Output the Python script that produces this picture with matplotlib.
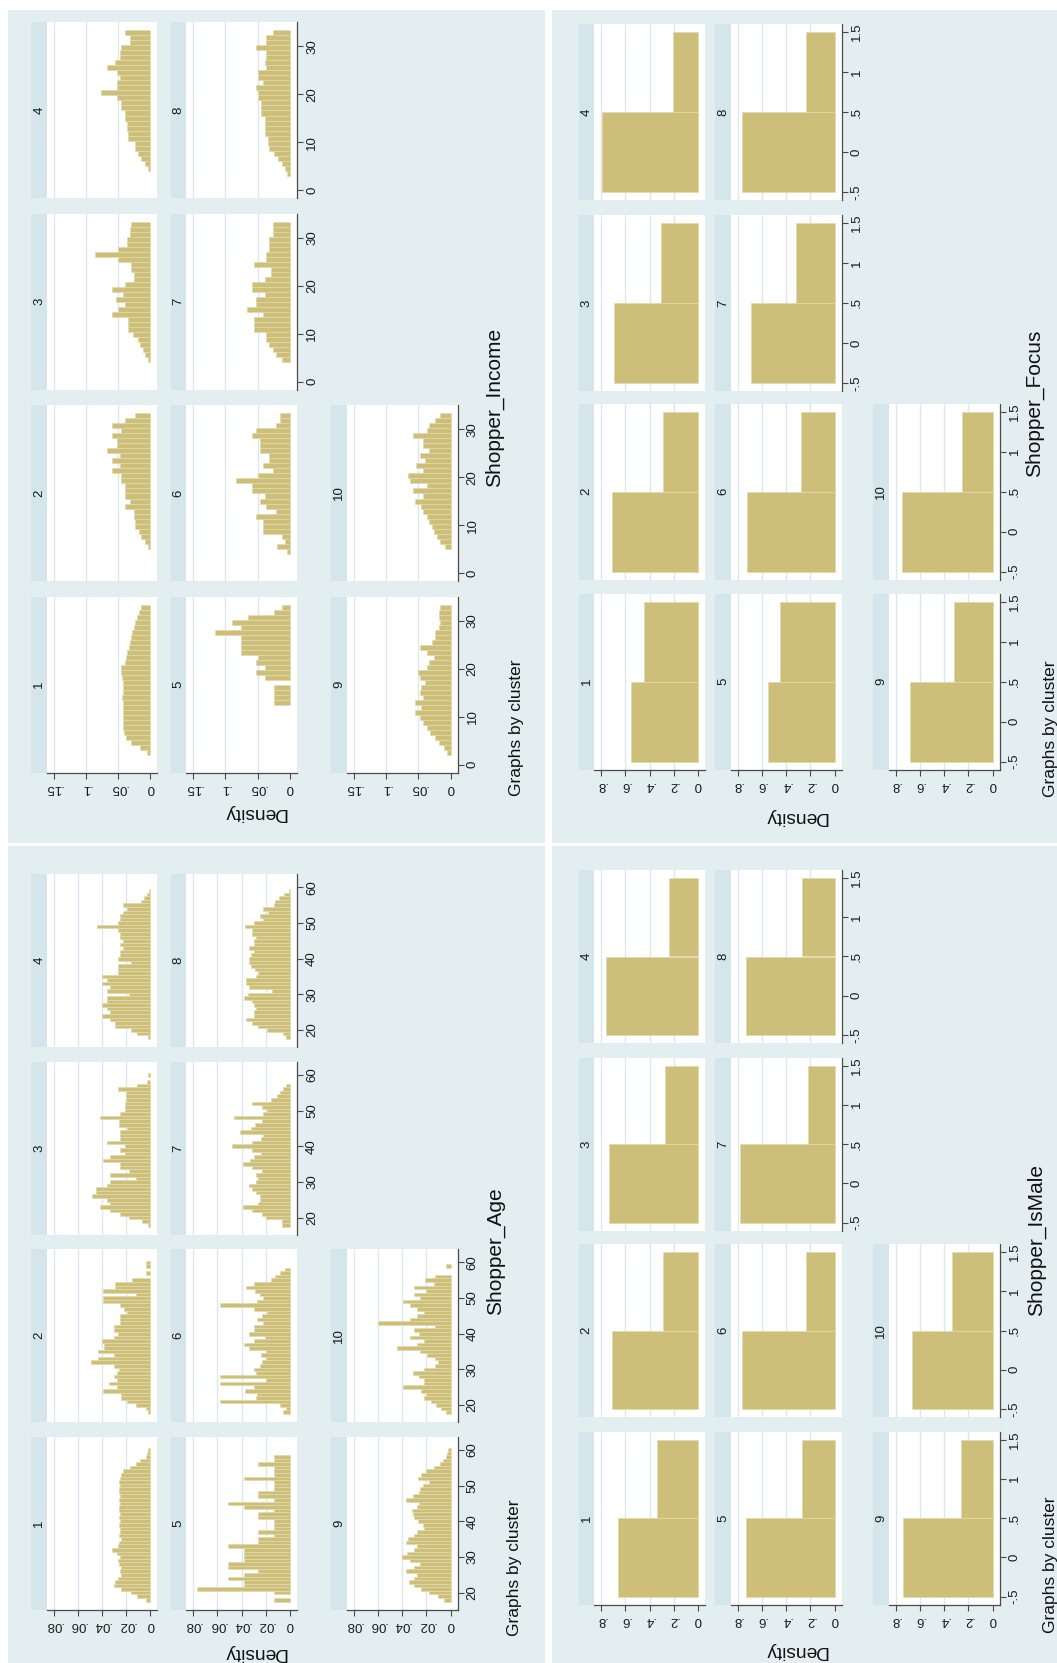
import numpy as np
import matplotlib
matplotlib.use("Agg")
from matplotlib import pyplot as plt
from matplotlib.patches import Rectangle

plt.rcParams['font.family'] = ['Liberation Sans', 'DejaVu Sans']

W, H = 1057, 1663

BG = "#E3EEF0"
STRIP = "#D4E5EB"
GRID = "#DCE7EC"
BAR = "#CDBF7A"
BAR_EDGE = "#E2DAAA"
AXIS = "#4A4A4A"

clusters = list(range(1, 11))

# histogram bins (common to all clusters)
age_start, age_width = 17.5, 1.0
income_start, income_width = 1.9, 1.05
binary_start, binary_width = -0.5, 1.0

age_ticks = [20, 30, 40, 50, 60]
income_ticks = [0, 10, 20, 30]
binary_ticks = [-0.5, 0, 0.5, 1, 1.5]
age_dens_ticks = [0, .02, .04, .06, .08]
income_dens_ticks = [0, .05, .1, .15]
binary_dens_ticks = [0, .2, .4, .6, .8]

# Shopper_Age density per cluster, ages 18..61
age_density = {
    1: [.004, .011, .016, .024, .030, .029, .027, .024, .025, .024,
        .026, .027, .025, .028, .032, .027, .026, .024, .026, .025,
        .025, .026, .025, .026, .025, .026, .026, .025, .026, .025,
        .026, .026, .025, .026, .025, .024, .023, .017, .012, .009,
        .004, .003, .002, 0],
    2: [.002, .004, .012, .019, .024, .024, .039, .028, .034, .028,
        .030, .028, .026, .030, .049, .043, .030, .043, .038, .038,
        .040, .030, .027, .030, .030, .025, .025, .025, .019, .022,
        .025, .039, .039, .012, .039, .029, .029, .015, 0, .004,
        0, .004, .004, 0],
    3: [.002, .007, .018, .025, .033, .042, .033, .036, .048, .045,
        .045, .036, .033, .012, .033, .018, .025, .025, .039, .033,
        .021, .025, .021, .036, .025, .025, .025, .019, .026, .026,
        .042, .025, .021, .021, .021, .020, .020, .020, .027, .011,
        .003, 0, .002, 0],
    4: [.002, .011, .016, .029, .029, .033, .040, .033, .036, .040,
        .036, .036, .018, .036, .033, .040, .036, .040, .027, .027,
        .027, .016, .027, .025, .025, .023, .025, .023, .025, .025,
        .027, .044, .027, .025, .025, .023, .019, .023, .008, .005,
        .003, .001, 0, 0],
    5: [.013, 0, .013, .077, .038, .038, .051, .038, .026, .051,
        .051, .038, .038, .038, .038, .051, .026, .026, .013, .026,
        .013, .013, .013, .026, .026, .013, .038, .051, .013, .026,
        .026, .013, .013, .013, .038, .013, .013, .013, .026, .013,
        .013, 0, 0, 0],
    6: [.006, .003, .008, .058, .028, .027, .037, .030, .058, .020,
        .058, .028, .030, .025, .023, .020, .024, .020, .034, .038,
        .030, .021, .034, .030, .030, .022, .027, .023, .019, .030,
        .058, .027, .022, .025, .029, .036, .030, .016, .012, .008,
        .004, 0, 0, 0],
    7: [.007, .007, .020, .023, .031, .039, .026, .025, .025, .028,
        .031, .034, .028, .026, .028, .023, .031, .039, .033, .030,
        .024, .031, .048, .031, .024, .022, .041, .032, .029, .023,
        .046, .022, .019, .023, .031, .016, .011, .008, .006, .003,
        0, 0, 0, 0],
    8: [.003, .006, .019, .026, .031, .036, .030, .030, .028, .030,
        .031, .038, .035, .015, .034, .036, .036, .028, .026, .029,
        .032, .034, .034, .032, .030, .034, .030, .030, .028, .031,
        .031, .037, .030, .022, .025, .018, .022, .013, .012, .009,
        .005, .001, 0, 0],
    9: [.005, .010, .018, .024, .030, .034, .030, .028, .037, .030,
        .025, .033, .040, .036, .030, .028, .037, .035, .030, .028,
        .022, .023, .027, .030, .031, .032, .028, .026, .037, .031,
        .026, .025, .023, .018, .027, .024, .020, .014, .009, .006,
        .004, .003, .002, 0],
    10: [.004, .008, .012, .016, .022, .020, .024, .039, .022, .022,
         .026, .031, .022, .013, .010, .013, .019, .025, .044, .028,
         .022, .033, .026, .030, .013, .060, .033, .028, .022, .028,
         .033, .039, .025, .030, .020, .030, .014, .021, .013, 0,
         0, .004, 0, 0],
}

# Shopper_Income density per cluster, 30 bins from 1.9
income_density = {
    1: [.006, .016, .030, .038, .041, .042, .043, .042, .043, .042,
        .043, .044, .042, .043, .042, .044, .046, .045, .040, .038,
        .036, .034, .032, .030, .028, .026, .024, .021, .018, .014],
    2: [0, 0, 0, .004, .009, .014, .018, .024, .024, .025,
        .025, .039, .032, .039, .039, .039, .045, .045, .060, .047,
        .060, .047, .068, .052, .052, .060, .045, .060, .040, .024],
    3: [0, 0, .004, .009, .012, .016, .019, .027, .035, .035,
        .035, .060, .050, .040, .054, .042, .060, .040, .025, .025,
        .030, .030, .050, .086, .050, .037, .037, .032, .032, .030],
    4: [0, 0, .004, .009, .015, .019, .024, .024, .035, .035,
        .037, .037, .039, .039, .045, .045, .052, .076, .052, .052,
        .047, .052, .068, .055, .047, .047, .045, .032, .032, .039],
    5: [0, 0, 0, 0, 0, 0, 0, 0, 0, 0,
        .025, .025, .025, .025, 0, .039, .052, .039, .052, .050,
        .076, .076, .076, .076, .116, .076, .090, .065, .025, .013],
    6: [0, 0, .005, .020, .008, .012, .042, .042, .042, .053,
        .021, .037, .047, .039, .058, .058, .084, .050, .026, .042,
        .032, .032, .047, .047, .047, .058, .053, .021, .016, .016],
    7: [0, 0, .013, .021, .026, .032, .037, .037, .055, .055,
        .055, .042, .067, .053, .053, .039, .058, .058, .039, .029,
        .029, .055, .037, .037, .032, .032, .032, .026, .026, .026],
    8: [0, .005, .008, .013, .018, .024, .032, .034, .034, .039,
        .039, .039, .039, .045, .045, .045, .050, .050, .053, .042,
        .050, .050, .037, .039, .037, .037, .053, .037, .037, .026],
    9: [.005, .010, .018, .024, .032, .037, .042, .047, .055, .045,
        .055, .042, .047, .045, .040, .047, .050, .037, .034, .026,
        .037, .047, .029, .024, .024, .018, .016, .018, .018, .016],
    10: [0, 0, 0, .008, .016, .021, .026, .029, .034, .037,
         .042, .045, .055, .042, .058, .037, .063, .066, .042, .053,
         .040, .047, .034, .042, .042, .058, .037, .034, .024, .016],
}

# Shopper_IsMale and Shopper_Focus: density of 0 and 1
ismale_density = {
    1: [.66, .34], 2: [.71, .29], 3: [.73, .27], 4: [.76, .24], 5: [.73, .27],
    6: [.765, .235], 7: [.78, .22], 8: [.73, .27], 9: [.74, .26], 10: [.665, .335],
}
focus_density = {
    1: [.555, .445], 2: [.71, .29], 3: [.695, .305], 4: [.79, .21], 5: [.55, .45],
    6: [.725, .275], 7: [.685, .315], 8: [.765, .235], 9: [.68, .32], 10: [.75, .25],
}

STRIP_W = 15.5
PLOT_W = 111

fig = plt.figure(figsize=(W / 100, H / 100), dpi=100)
fig.patch.set_facecolor("white")


def px_axes(x, y, w, h, **kw):
    ax = fig.add_axes([x / W, 1 - (y + h) / H, w / W, h / H], **kw)
    ax.set_zorder(2)
    return ax


def px_rect(x, y, w, h, color):
    fig.patches.append(Rectangle((x / W, 1 - (y + h) / H), w / W, h / H,
                                 transform=fig.transFigure, color=color,
                                 lw=0, zorder=-5))


def px_text(x, y, s, **kw):
    fig.text(x / W, 1 - y / H, s, zorder=5, **kw)


def stata_fmt(v):
    s = f"{v:g}"
    if s.startswith("0."):
        s = s[1:]
    elif s.startswith("-0."):
        s = "-" + s[2:]
    return s


def draw_block(title, data, start, width, vticks, dticks, cols, rows, h,
               bg, title_xy, note_xy, dens_xy):
    x0, y0, x1, y1 = bg
    px_rect(x0, y0, x1 - x0, y1 - y0, BG)
    nb = len(data[1])
    edges = start + np.arange(nb + 1) * width
    lo = min(vticks[0], edges[0])
    hi = max(vticks[-1], edges[-1])
    pady = (hi - lo) * 8 / (h - 16)
    padx = dticks[-1] * 7 / (PLOT_W - 14)

    for p in clusters:
        c = (p - 1) // 4
        r = 3 - (p - 1) % 4
        x, y = cols[c], rows[r]
        px_rect(x, y, STRIP_W, h, STRIP)
        px_text(x + STRIP_W / 2 + 0.5, y + h / 2, str(p), rotation=90,
                ha="center", va="center", fontsize=9.5, color="#1a1a1a")

        ax = px_axes(x + STRIP_W, y, PLOT_W, h)
        ax.set_facecolor("white")
        for t in dticks[1:]:
            ax.axvline(t, color=GRID, lw=1.0, zorder=0)
        d = np.asarray(data[p])
        keep = d > 0
        ax.barh(edges[:-1][keep], d[keep], height=width, align="edge",
                color=BAR, edgecolor=BAR_EDGE, linewidth=0.5, zorder=2)
        ax.set_xlim(dticks[-1] + padx, -padx)
        ax.set_ylim(lo - pady, hi + pady)
        for s in ax.spines.values():
            s.set_visible(False)

        if p + 4 > 10:
            ax.spines["right"].set_visible(True)
            ax.spines["right"].set_color(AXIS)
            ax.spines["right"].set_linewidth(0.9)
            ax.yaxis.tick_right()
            ax.set_yticks(vticks)
            ax.set_yticklabels([stata_fmt(v) for v in vticks], rotation=90,
                               va="center", ha="left", fontsize=9.5)
            ax.tick_params(axis="y", direction="out", length=4, width=0.8,
                           color=AXIS, pad=2.5, labelcolor="#1a1a1a")
        else:
            ax.set_yticks([])

        if (p - 1) % 4 == 0:
            ax.spines["bottom"].set_visible(True)
            ax.spines["bottom"].set_color(AXIS)
            ax.spines["bottom"].set_linewidth(0.9)
            ax.set_xticks(dticks)
            ax.set_xticklabels([stata_fmt(v) for v in dticks], rotation=180,
                               ha="center", va="top", fontsize=9.5)
            ax.tick_params(axis="x", direction="out", length=4, width=0.8,
                           color=AXIS, pad=2.5, labelcolor="#1a1a1a")
        else:
            ax.set_xticks([])

    px_text(title_xy[0], title_xy[1], title, rotation=90, ha="center",
            va="center", fontsize=15, color="#111111")
    px_text(note_xy[0], note_xy[1], "Graphs by cluster", rotation=90,
            ha="center", va="bottom", fontsize=12.5, color="#111111")
    px_text(dens_xy[0], dens_xy[1], "Density", rotation=180, ha="center",
            va="center", fontsize=13.8, color="#111111")


left_cols = [31, 170.5, 331]
right_cols = [578.5, 715, 873]

draw_block("Shopper_Income", income_density, income_start, income_width,
           income_ticks, income_dens_ticks, left_cols,
           [22, 213.5, 405, 596.5], 176, (7.5, 10, 545, 843),
           (494, 407), (516, 796), (255, 813))
draw_block("Shopper_Focus", focus_density, binary_start, binary_width,
           binary_ticks, binary_dens_ticks, right_cols,
           [24, 215, 403.5, 593.5], 176, (552, 10, 1057, 843),
           (1034, 403), (1051, 797), (796, 817))
draw_block("Shopper_Age", age_density, age_start, age_width,
           age_ticks, age_dens_ticks, left_cols,
           [874, 1061.5, 1249, 1436.5], 173, (7.5, 846, 545, 1663),
           (495, 1251), (515, 1636), (255, 1652))
draw_block("Shopper_IsMale", ismale_density, binary_start, binary_width,
           binary_ticks, binary_dens_ticks, right_cols,
           [870, 1057.5, 1244, 1431.5], 173, (552, 846, 1057, 1663),
           (1036, 1240), (1051, 1633), (796, 1650))

fig.savefig("out.png", dpi=100)
